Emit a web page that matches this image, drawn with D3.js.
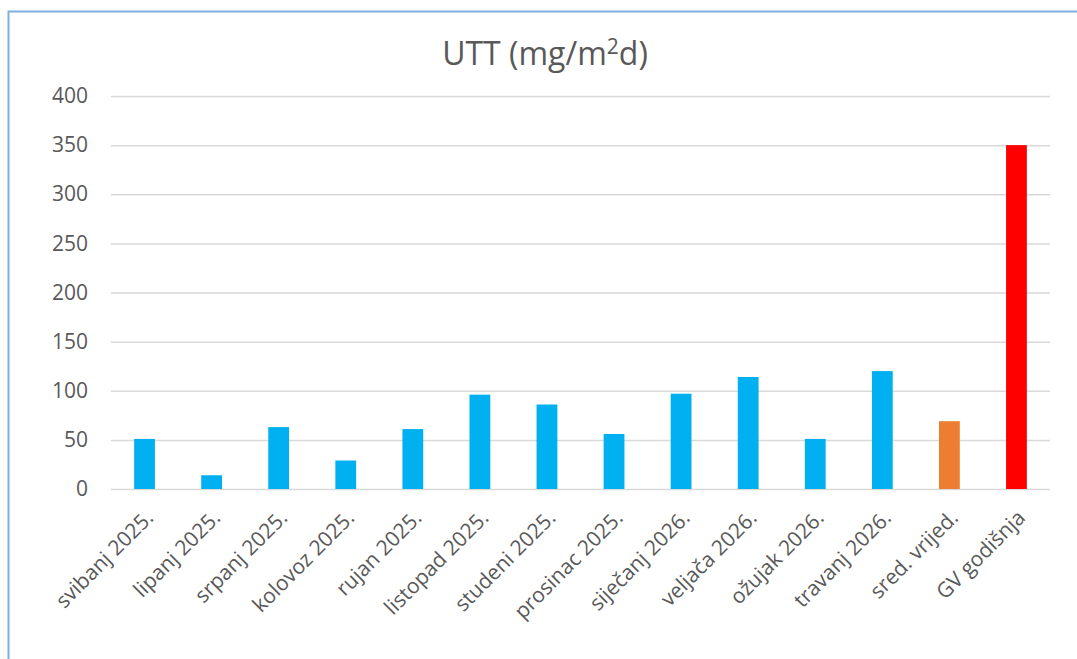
<!DOCTYPE html>
<html><head><meta charset="utf-8">
<script src="https://cdn.jsdelivr.net/npm/d3@7/dist/d3.min.js"></script>
<style>body{margin:0;background:#fff;}svg{display:block;}</style>
</head><body>
<svg id="c" width="1077" height="659"></svg>
<script>
const categories = ["svibanj 2025.","lipanj 2025.","srpanj 2025.","kolovoz 2025.","rujan 2025.","listopad 2025.","studeni 2025.","prosinac 2025.","siječanj 2026.","veljača 2026.","ožujak 2026.","travanj 2026.","sred. vrijed.","GV godišnja"];
const values = [51,14,63,29,61,96,86,56,97,114,51,120,69,350];
const barColors = ["#00B0F0","#00B0F0","#00B0F0","#00B0F0","#00B0F0","#00B0F0","#00B0F0","#00B0F0","#00B0F0","#00B0F0","#00B0F0","#00B0F0","#ED7D31","#FF0000"];
const yTicks = [0,50,100,150,200,250,300,350,400];

const svg = d3.select("#c");
const font = "'Open Sans', sans-serif";
const m = {left:111,right:1050,top:96,bottom:489};

svg.append("rect").attr("x",8.5).attr("y",11.5).attr("width",1100).attr("height",700)
  .attr("fill","none").attr("stroke","#7FAEE0").attr("stroke-width",2);

const x = d3.scaleBand().domain(categories).range([m.left,m.right]).paddingInner(0.69).paddingOuter(0.345);
const y = d3.scaleLinear().domain([0,400]).range([m.bottom,m.top]);

const yAxis = svg.append("g").attr("transform",`translate(${m.left},0)`)
  .call(d3.axisLeft(y).tickValues(yTicks).tickSize(-(m.right-m.left)).tickPadding(23));
yAxis.select(".domain").remove();
yAxis.selectAll("line").attr("stroke","#D9D9D9").attr("stroke-width",1.5);
yAxis.selectAll("text").attr("fill","#595959").style("font-family",font).style("font-size","21px");

svg.append("g").selectAll("rect").data(values).join("rect")
  .attr("x",(d,i)=>x(categories[i])).attr("width",x.bandwidth())
  .attr("y",d=>y(d)).attr("height",d=>y(0)-y(d))
  .attr("fill",(d,i)=>barColors[i]);

const xAxis = svg.append("g").attr("transform",`translate(0,${m.bottom})`)
  .call(d3.axisBottom(x).tickSize(0).tickPadding(0));
xAxis.select(".domain").remove();
xAxis.selectAll("text")
  .attr("fill","#595959").style("font-family",font).style("font-size","21px")
  .attr("text-anchor","end").attr("dy","0")
  .attr("transform","translate(10,30) rotate(-45)");

const t = svg.append("text").attr("x",545).attr("y",65).attr("text-anchor","middle")
  .attr("fill","#595959").style("font-family",font).style("font-size","32px");
t.append("tspan").text("UTT (mg/m");
t.append("tspan").attr("dy",-11).style("font-size","21px").text("2");
t.append("tspan").attr("dy",11).text("d)");
</script>
</body></html>
